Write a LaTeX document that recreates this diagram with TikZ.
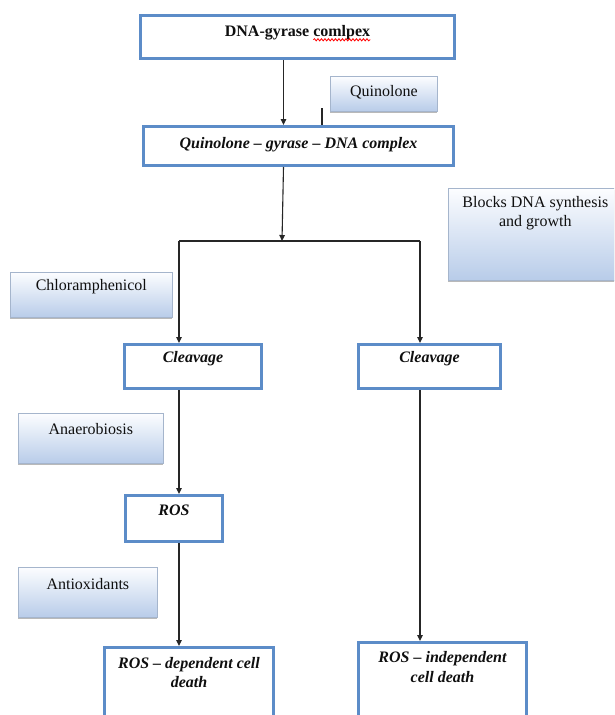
\documentclass[tikz,border=0pt]{standalone}
\usepackage{fontspec}
\setmainfont{Liberation Serif}
\usetikzlibrary{arrows.meta,shadows,decorations.pathmorphing}
\definecolor{mainblue}{RGB}{92,140,200}
\definecolor{gtop}{RGB}{252,253,255}
\definecolor{gbot}{RGB}{184,204,233}
\definecolor{gborder}{RGB}{165,181,204}
\definecolor{txt}{RGB}{15,15,15}
\begin{document}
\begin{tikzpicture}[x=1pt,y=1pt,
  mainbox/.style={draw=mainblue, line width=3pt, fill=white, rectangle, inner sep=0pt, anchor=north west},
  softbox/.style={draw=gborder, line width=0.7pt, top color=gtop, bottom color=gbot, rectangle, inner sep=0pt, anchor=north west,
    drop shadow={shadow xshift=-0.8pt, shadow yshift=-1.6pt, fill=black!50, opacity=0.55}},
  lbl/.style={font=\fontsize{16}{19.5}\selectfont, text=txt, align=center, inner sep=0pt},
  mlbl/.style={lbl, font=\fontsize{16}{19.5}\selectfont\bfseries\itshape},
  flow/.style={draw=black!85, line width=1.1pt},
  arr/.style={flow, -{Triangle[length=6pt,width=5.5pt]}},
]
\useasboundingbox (0,0) rectangle (614,-715);
\clip (0,0) rectangle (614,-715);
\fill[white] (0,0) rectangle (614,-715);

% main boxes
\node[mainbox, minimum width=314, minimum height=43] (top) at (139,-14) {};
\node[mainbox, minimum width=310, minimum height=39] (qgd) at (142,-125) {};
\node[mainbox, minimum width=137, minimum height=44] (cleavL) at (123,-343) {};
\node[mainbox, minimum width=142, minimum height=44] (cleavR) at (357,-343) {};
\node[mainbox, minimum width=97, minimum height=46] (ros) at (124,-494) {};
\node[mainbox, minimum width=169, minimum height=90] (rosdep) at (103,-646) {};
\node[mainbox, minimum width=168, minimum height=95] (rosind) at (357,-641) {};

% side boxes
\node[softbox, minimum width=107, minimum height=35] (quin) at (330,-76) {};
\node[softbox, minimum width=174, minimum height=92] (blocks) at (448,-188) {};
\node[softbox, minimum width=162, minimum height=45] (chlor) at (10,-272) {};
\node[softbox, minimum width=145, minimum height=50] (anaer) at (18,-413) {};
\node[softbox, minimum width=139, minimum height=50] (antiox) at (18,-567) {};

% texts
\node[lbl, font=\fontsize{16}{19.5}\selectfont\bfseries] (tTop) at ([yshift=-19]top.north) {DNA-gyrase comlpex};
\draw[red, line width=0.8pt, decorate, decoration={snake, amplitude=1.1pt, segment length=3.5pt}]
  ([xshift=-57pt,yshift=-3pt]tTop.base east) -- ([yshift=-3pt]tTop.base east);
\node[mlbl] (tQgd) at ([yshift=-19.5]qgd.north) {Quinolone -- gyrase -- DNA complex};
\node[mlbl] (tCL) at ([yshift=-16]cleavL.north) {Cleavage};
\node[mlbl] (tCR) at ([yshift=-16]cleavR.north) {Cleavage};
\node[mlbl] (tRos) at ([yshift=-16]ros.north) {ROS};
\node[mlbl] (tRd) at ([yshift=-26.5]rosdep.north) {ROS -- dependent cell\\death};
\node[mlbl] (tRi) at ([yshift=-26]rosind.north) {ROS -- independent\\cell death};
\node[lbl] (tQuin) at ([yshift=-16]quin.north) {Quinolone};
\node[lbl] (tBlocks) at ([yshift=-25]blocks.north) {Blocks DNA synthesis\\and growth};
\node[lbl] (tChlor) at ([yshift=-15]chlor.north) {Chloramphenicol};
\node[lbl] (tAnaer) at ([yshift=-16]anaer.north) {Anaerobiosis};
\node[lbl] (tAnti) at ([yshift=-17]antiox.north) {Antioxidants};

% connectors
\coordinate (j) at (282,-241);
\coordinate (jl) at (179,-241);
\coordinate (jr) at (420,-241);
\coordinate (qtick) at (322,-108);
\draw[arr] ([xshift=-14pt]top.south) -- ([xshift=-15pt]qgd.north);
\draw[flow] (qtick) -- (qtick |- qgd.north);
\draw[arr] ([xshift=-15pt]qgd.south) -- (j);
\draw[flow] (jl) -- (jr);
\draw[arr] (jl) -- (jl |- cleavL.north);
\draw[arr] (jr) -- (jr |- cleavR.north);
\draw[arr] (jl |- cleavL.south) -- (jl |- ros.north);
\draw[arr] (jl |- ros.south) -- (jl |- rosdep.north);
\draw[arr] (jr |- cleavR.south) -- (jr |- rosind.north);
\end{tikzpicture}
\end{document}
